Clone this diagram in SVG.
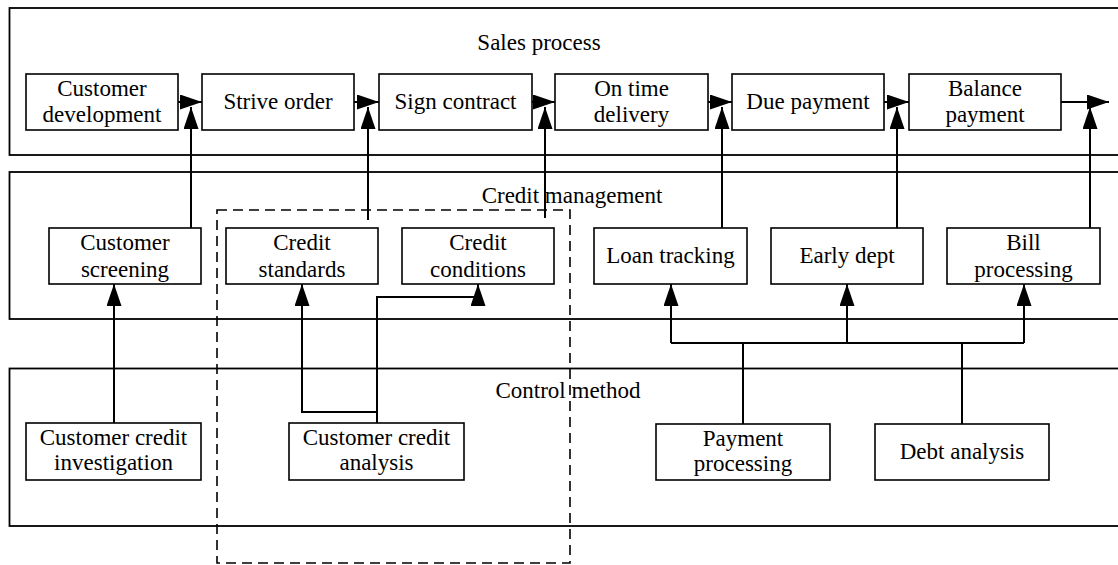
<svg xmlns="http://www.w3.org/2000/svg" width="1118" height="565" viewBox="0 0 1118 565">
<defs>
<style>
.panel{fill:none;stroke:#000;stroke-width:1.8}
.box{fill:#fff;stroke:#000;stroke-width:1.6}
.t{font-family:"Liberation Serif","Times New Roman",serif;font-size:23px;fill:#000;text-anchor:middle}
.c{fill:none;stroke:#000;stroke-width:2}
.a{marker-end:url(#ah)}
.dash{fill:none;stroke:#000;stroke-width:1.6;stroke-dasharray:10 6}
</style>
<marker id="ah" markerUnits="userSpaceOnUse" markerWidth="22" markerHeight="15" refX="22" refY="7.5" orient="auto">
<polygon points="0,0 22,7.5 0,15" fill="#000"/>
</marker>
</defs>
<rect width="1118" height="565" fill="#fff"/>
<g id="panels">
<rect class="panel" x="9.5" y="8" width="1120" height="147"/>
<rect class="panel" x="9.5" y="172" width="1120" height="147"/>
<rect class="panel" x="9.5" y="368.5" width="1120" height="157.5"/>
<text class="t" x="539" y="50">Sales process</text>
<text class="t" x="572" y="203">Credit management</text>
<text class="t" x="568" y="398">Control method</text>
</g>
<rect id="group-box" class="dash" x="217" y="210" width="353" height="353"/>
<g id="connectors">
<line class="c a" x1="178" y1="102" x2="202" y2="102"/>
<line class="c a" x1="354" y1="102" x2="379" y2="102"/>
<line class="c a" x1="532" y1="102" x2="555" y2="102"/>
<line class="c a" x1="708" y1="102" x2="732" y2="102"/>
<line class="c a" x1="884" y1="102" x2="909" y2="102"/>
<line class="c a" x1="1061" y1="102" x2="1109" y2="102"/>
<line class="c a" x1="191" y1="228" x2="191" y2="107"/>
<line class="c a" x1="368" y1="220" x2="368" y2="107"/>
<line class="c a" x1="545" y1="218" x2="545" y2="107"/>
<line class="c a" x1="722" y1="228" x2="722" y2="107"/>
<line class="c a" x1="897" y1="228" x2="897" y2="107"/>
<line class="c a" x1="1090" y1="228" x2="1090" y2="107"/>
<line class="c a" x1="114" y1="423" x2="114" y2="284"/>
<path class="c a" d="M377,423 V297 H478 V284"/>
<path class="c a" d="M377,412 H302 V284"/>
<path class="c" d="M743,424 V343 M962,424 V343 M671,343 H1024"/>
<line class="c a" x1="671" y1="343" x2="671" y2="284"/>
<line class="c a" x1="847" y1="343" x2="847" y2="284"/>
<line class="c a" x1="1024" y1="343" x2="1024" y2="284"/>
</g>
<g id="customer-development"><rect class="box" x="26" y="74" width="152" height="56"/><text class="t" x="102" y="96">Customer</text><text class="t" x="102" y="122">development</text></g>
<g id="strive-order"><rect class="box" x="202" y="74" width="152" height="56"/><text class="t" x="278" y="109">Strive order</text></g>
<g id="sign-contract"><rect class="box" x="379" y="74" width="153" height="56"/><text class="t" x="455.5" y="109">Sign contract</text></g>
<g id="on-time-delivery"><rect class="box" x="555" y="74" width="153" height="56"/><text class="t" x="631.5" y="96">On time</text><text class="t" x="631.5" y="122">delivery</text></g>
<g id="due-payment"><rect class="box" x="732" y="74" width="152" height="56"/><text class="t" x="808" y="109">Due payment</text></g>
<g id="balance-payment"><rect class="box" x="909" y="74" width="152" height="56"/><text class="t" x="985" y="96">Balance</text><text class="t" x="985" y="122">payment</text></g>
<g id="customer-screening"><rect class="box" x="49" y="228" width="152" height="56"/><text class="t" x="125" y="250">Customer</text><text class="t" x="125" y="277">screening</text></g>
<g id="credit-standards"><rect class="box" x="226" y="228" width="152" height="56"/><text class="t" x="302" y="250">Credit</text><text class="t" x="302" y="277">standards</text></g>
<g id="credit-conditions"><rect class="box" x="402" y="228" width="152" height="56"/><text class="t" x="478" y="250">Credit</text><text class="t" x="478" y="277">conditions</text></g>
<g id="loan-tracking"><rect class="box" x="594" y="228" width="153" height="56"/><text class="t" x="670.5" y="263">Loan tracking</text></g>
<g id="early-dept"><rect class="box" x="771" y="228" width="152" height="56"/><text class="t" x="847" y="263">Early dept</text></g>
<g id="bill-processing"><rect class="box" x="947" y="228" width="153" height="56"/><text class="t" x="1023.5" y="250">Bill</text><text class="t" x="1023.5" y="277">processing</text></g>
<g id="customer-credit-investigation"><rect class="box" x="26" y="423" width="175" height="57"/><text class="t" x="113.5" y="445">Customer credit</text><text class="t" x="113.5" y="470">investigation</text></g>
<g id="customer-credit-analysis"><rect class="box" x="289" y="423" width="175" height="57"/><text class="t" x="376.5" y="445">Customer credit</text><text class="t" x="376.5" y="470">analysis</text></g>
<g id="payment-processing"><rect class="box" x="656" y="424" width="174" height="56"/><text class="t" x="743" y="446">Payment</text><text class="t" x="743" y="471">processing</text></g>
<g id="debt-analysis"><rect class="box" x="875" y="424" width="174" height="56"/><text class="t" x="962" y="459">Debt analysis</text></g>
</svg>
